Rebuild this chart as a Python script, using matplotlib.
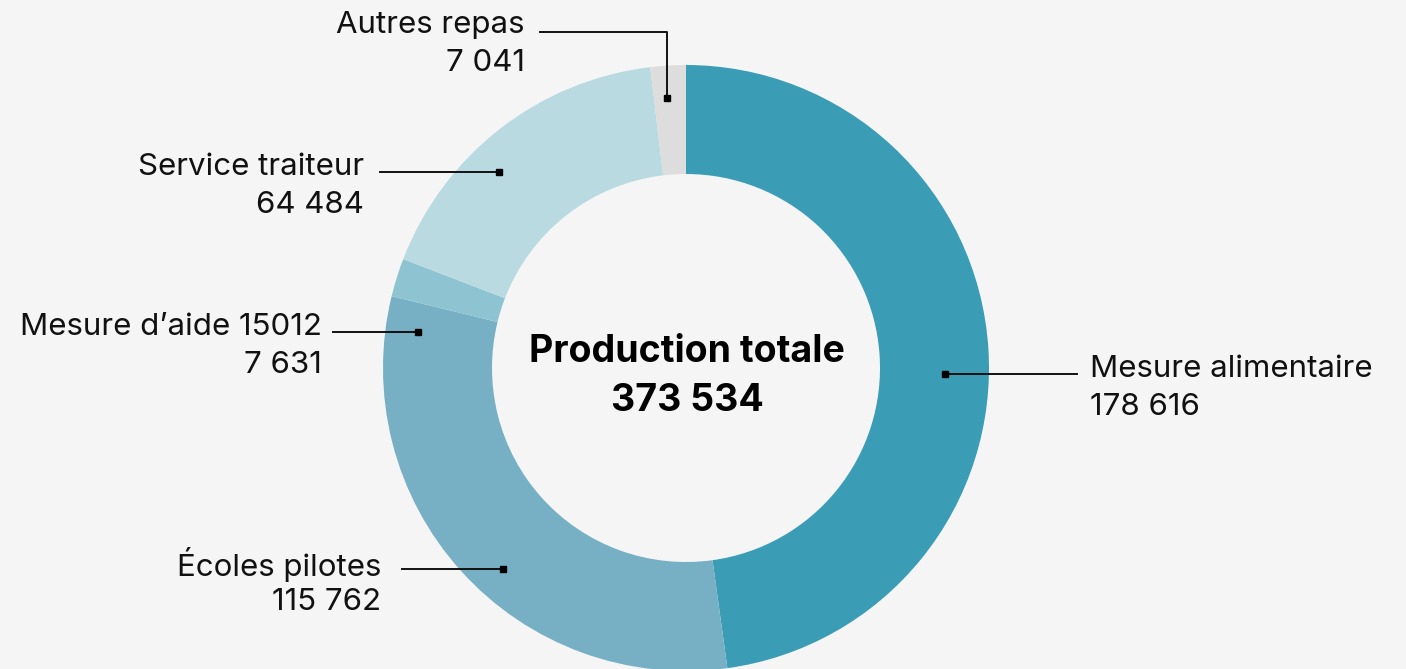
import numpy as np
import matplotlib.pyplot as plt

# donut data
labels = ['Mesure alimentaire', 'Écoles pilotes', 'Mesure d’aide 15012', 'Service traiteur', 'Autres repas']
values = [178616, 115762, 7631, 64484, 7041]
colors = ['#3A9DB5', '#77B0C4', '#8EC4D2', '#B8DAE0', '#DDDDDD']
center_title = 'Production totale'


def fmt(v):
    return f'{v:,}'.replace(',', ' ')


W, H = 1406, 669
BG = '#F5F5F5'
plt.rcParams['font.family'] = ['Inter', 'DejaVu Sans']

fig = plt.figure(figsize=(W / 100, H / 100), dpi=100, facecolor=BG)
ax = fig.add_axes([0, 0, 1, 1])
ax.set_facecolor(BG)

cx, cy = 686, H - 368
R, ring = 303, 109
wedges, _ = ax.pie(values, colors=colors, startangle=90, counterclock=False,
                   center=(cx, cy), radius=R, frame=True,
                   wedgeprops=dict(width=ring, linewidth=0))
ax.set_xlim(0, W)
ax.set_ylim(0, H)
ax.set_aspect('equal')
ax.axis('off')

# label layout: angle nudge, marker radius, text x, line end x
nudge = [-5.2, 5.7, 9.7, 5.9, 0.6]
r_mark = [259, 272, 270, 271, 271]
text_x = [1090, 381, 322, 364, 525]
line_end = [1077, 402, 333, 380, 540]
ink = '#111111'

for i, w in enumerate(wedges):
    mid = (w.theta1 + w.theta2) / 2 + nudge[i]
    mx = cx + r_mark[i] * np.cos(np.radians(mid))
    my = cy + r_mark[i] * np.sin(np.radians(mid))
    if labels[i] == 'Autres repas':
        ly = H - 32
        ax.plot([mx, mx, line_end[i]], [my, ly, ly], color=ink, lw=1.4, zorder=3)
        ty = ly + 7
    else:
        ly = my
        ax.plot([mx, line_end[i]], [ly, ly], color=ink, lw=1.4, zorder=3)
        ty = ly + 5
    ax.plot(mx, my, marker='s', ms=5, color='black', zorder=4)
    ha = 'left' if text_x[i] > cx else 'right'
    ax.text(text_x[i], ty, labels[i], ha=ha, va='center', fontsize=22.5,
            color='#111111', fontweight='normal')
    ax.text(text_x[i], ty - 38, fmt(values[i]), ha=ha, va='center', fontsize=22.5,
            color='#111111', fontweight='normal')

ax.text(cx + 1, H - 352, center_title, ha='center', va='center', fontsize=27,
        fontweight='bold', color='black')
ax.text(cx + 1, H - 401, fmt(sum(values)), ha='center', va='center', fontsize=27,
        fontweight='bold', color='black')

fig.savefig('out.png', dpi=100, facecolor=BG)
